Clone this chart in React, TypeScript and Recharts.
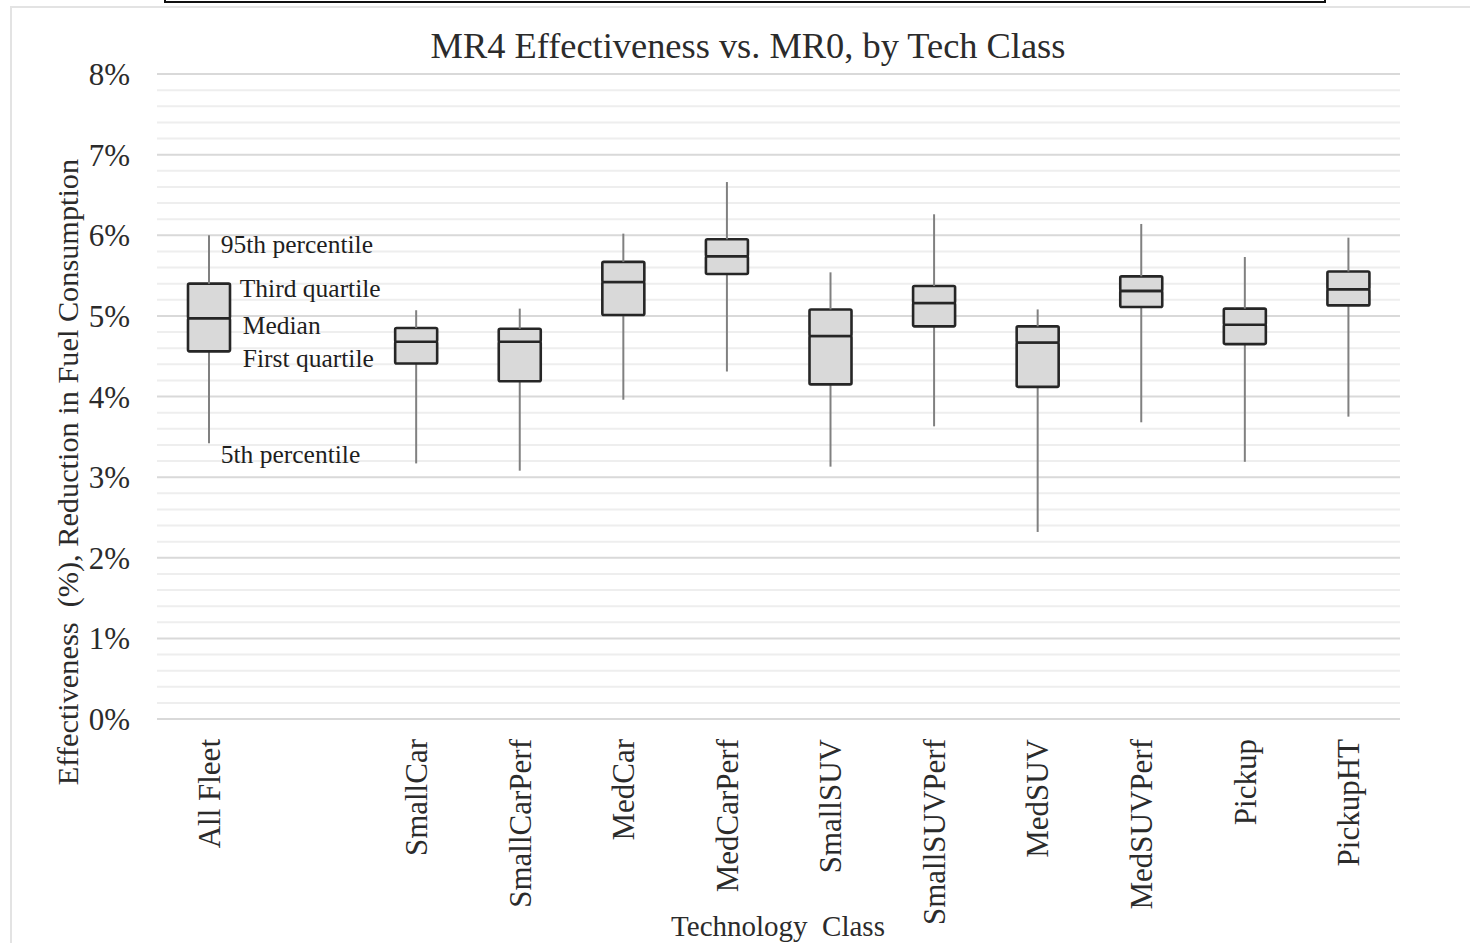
import React from "react";
import {
  Bar,
  CartesianGrid,
  ComposedChart,
  ReferenceDot,
  ReferenceLine,
  XAxis,
  YAxis,
} from "recharts";

// Percentiles of MR4 effectiveness (% reduction in fuel consumption)
const categories = [
  "All Fleet",
  "",
  "SmallCar",
  "SmallCarPerf",
  "MedCar",
  "MedCarPerf",
  "SmallSUV",
  "SmallSUVPerf",
  "MedSUV",
  "MedSUVPerf",
  "Pickup",
  "PickupHT",
];
const p5 = [3.42, null, 3.17, 3.08, 3.96, 4.31, 3.13, 3.63, 2.32, 3.68, 3.19, 3.75];
const q1 = [4.56, null, 4.41, 4.19, 5.01, 5.52, 4.15, 4.87, 4.12, 5.11, 4.65, 5.13];
const median = [4.97, null, 4.68, 4.68, 5.42, 5.74, 4.75, 5.16, 4.67, 5.31, 4.89, 5.33];
const q3 = [5.4, null, 4.85, 4.84, 5.67, 5.95, 5.08, 5.37, 4.87, 5.49, 5.09, 5.55];
const p95 = [6.0, null, 5.07, 5.09, 6.02, 6.66, 5.54, 6.26, 5.08, 6.14, 5.73, 5.97];

const yTicks = [0, 1, 2, 3, 4, 5, 6, 7, 8];
const minorSteps = [0.2, 0.4, 0.6, 0.8];

// labels explaining the first box
const legendLabels = ["95th percentile", "Third quartile", "Median", "First quartile", "5th percentile"];
const legendValues = [p95[0], q3[0], median[0], q1[0], p5[0]];

const FONT = '"Liberation Serif", "Times New Roman", serif';
const TEXT = "#2b2b2b";

const data = categories.map((name, i) => {
  if (p5[i] == null) return { name };
  return {
    name,
    base: p5[i],
    lowWhisker: q1[i]! - p5[i]!,
    lowBox: median[i]! - q1[i]!,
    highBox: q3[i]! - median[i]!,
    highWhisker: p95[i]! - q3[i]!,
  };
});

const minorTicks = yTicks.slice(0, -1).flatMap((t) => minorSteps.map((s) => t + s));

// offsets of the explanatory labels from the box (px)
const legendOffsets = [
  { dx: 12, dy: 12 },
  { dx: 31, dy: 8 },
  { dx: 34, dy: 10 },
  { dx: 34, dy: 10 },
  { dx: 12, dy: 14 },
];

const W = 1470;
const H = 943;
const MARGIN = { top: 74, right: 70, bottom: 0, left: 0 };

function Whisker(props: any) {
  const { x, y, width, height } = props;
  if (height == null || width == null) return null;
  const cx = x + width / 2;
  return <line x1={cx} x2={cx} y1={y} y2={y + height} stroke="#808080" strokeWidth={2} />;
}

function BoxPart(props: any) {
  const { x, y, width, height } = props;
  if (height == null || width == null) return null;
  return (
    <rect
      x={x}
      y={y}
      width={width}
      height={height}
      rx={1.5}
      fill="#d9d9d9"
      stroke="#262626"
      strokeWidth={2.6}
    />
  );
}

function CategoryTick(props: any) {
  const { x, y, payload } = props;
  if (!payload.value) return null;
  return (
    <text
      transform={`translate(${x + 11}, ${y + 12}) rotate(-90)`}
      textAnchor="end"
      fontSize={31}
      fontFamily={FONT}
      fill={TEXT}
    >
      {payload.value}
    </text>
  );
}

// light minor gridlines, in a chart of their own underneath the boxes
function MinorGrid() {
  return (
    <ComposedChart width={W} height={H} data={data} margin={MARGIN} barSize={42}>
      <XAxis dataKey="name" interval={0} height={224} axisLine={false} tickLine={false} tick={() => null} />
      <YAxis
        domain={[0, 8]}
        ticks={yTicks}
        width={157}
        axisLine={false}
        tickLine={false}
        tick={() => null}
      />
      <Bar dataKey="base" fill="none" shape={() => null} isAnimationActive={false} />
      {minorTicks.map((t) => (
        <ReferenceLine key={t} y={t} stroke="#eeeeee" strokeWidth={2} />
      ))}
    </ComposedChart>
  );
}

export default function App() {
  return (
    <div
      style={{
        position: "absolute",
        left: 0,
        top: 0,
        width: W,
        height: H,
        overflow: "hidden",
        background: "#fff",
      }}
    >
      {/* frame of the chart and the bottom edge of the box above it */}
      <div
        style={{
          position: "absolute",
          left: 10,
          top: 6,
          width: 1480,
          height: 960,
          border: "2px solid #e3e3e3",
        }}
      />
      <div
        style={{
          position: "absolute",
          left: 164,
          top: -20,
          width: 1158,
          height: 19,
          border: "2px solid #111",
        }}
      />

      <div style={{ position: "absolute", left: 0, top: 0 }}>
        <MinorGrid />
      </div>

      <div style={{ position: "absolute", left: 0, top: 0 }}>
        <ComposedChart width={W} height={H} data={data} margin={MARGIN} barSize={42}>
          <CartesianGrid vertical={false} stroke="#d9d9d9" strokeWidth={2} />
          <XAxis
            dataKey="name"
            interval={0}
            axisLine={false}
            tickLine={false}
            height={224}
            tick={<CategoryTick />}
          />
          <YAxis
            domain={[0, 8]}
            ticks={yTicks}
            width={157}
            axisLine={false}
            tickLine={false}
            tickSize={0}
            tickMargin={27}
            tickFormatter={(v) => `${v}%`}
            tick={{ fontSize: 31, fill: TEXT, fontFamily: FONT }}
          />
          <Bar dataKey="base" stackId="box" fill="none" shape={() => null} isAnimationActive={false} />
          <Bar dataKey="lowWhisker" stackId="box" shape={<Whisker />} isAnimationActive={false} />
          <Bar dataKey="lowBox" stackId="box" shape={<BoxPart />} isAnimationActive={false} />
          <Bar dataKey="highBox" stackId="box" shape={<BoxPart />} isAnimationActive={false} />
          <Bar dataKey="highWhisker" stackId="box" shape={<Whisker />} isAnimationActive={false} />
          {legendLabels.map((label, i) => (
            <ReferenceDot
              key={label}
              x={categories[0]}
              y={legendValues[i]!}
              r={0}
              fill="none"
              stroke="none"
              ifOverflow="visible"
              label={({ viewBox }: any) => (
                <text
                  x={viewBox.x + legendOffsets[i].dx}
                  y={viewBox.y + legendOffsets[i].dy}
                  dominantBaseline="middle"
                  fontSize={25.5}
                  fontFamily={FONT}
                  fill="#1e1e1e"
                >
                  {label}
                </text>
              )}
            />
          ))}
        </ComposedChart>
      </div>

      <svg
        width={W}
        height={H}
        style={{ position: "absolute", left: 0, top: 0, pointerEvents: "none" }}
      >
        <text x={748} y={58} textAnchor="middle" fontSize={36.4} fontFamily={FONT} fill={TEXT}>
          MR4 Effectiveness vs. MR0, by Tech Class
        </text>
        <text
          x={778}
          y={936}
          textAnchor="middle"
          fontSize={29}
          fontFamily={FONT}
          fill={TEXT}
          style={{ whiteSpace: "pre" }}
        >
          Technology  Class
        </text>
        <text
          transform="translate(78, 472) rotate(-90)"
          textAnchor="middle"
          fontSize={30.3}
          fontFamily={FONT}
          fill={TEXT}
          style={{ whiteSpace: "pre" }}
        >
          Effectiveness  (%), Reduction in Fuel Consumption
        </text>
      </svg>
    </div>
  );
}
